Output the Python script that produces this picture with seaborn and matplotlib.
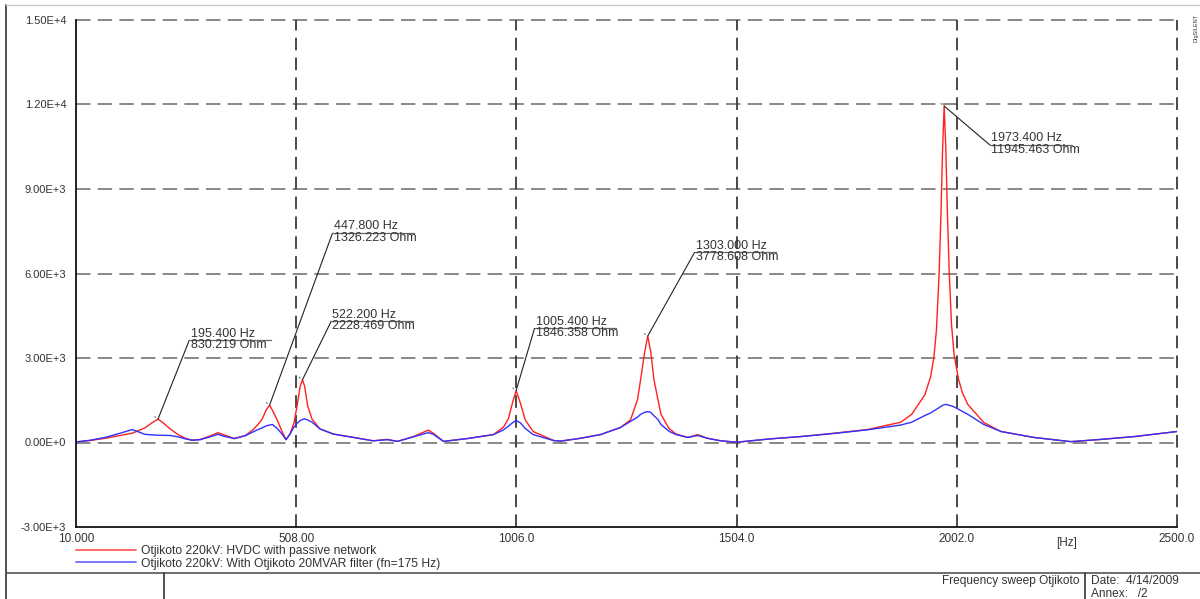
import pandas as pd
import numpy as np
import matplotlib.pyplot as plt
import seaborn as sns
from matplotlib.lines import Line2D

# Frequency sweep data (Hz / Ohm)
freq = [10, 42, 76, 110, 137, 166, 182, 195.4, 207, 223, 241, 257, 273, 291, 313, 331, 345, 368,
        393, 411, 422, 431, 440, 447.8, 454, 465, 476, 485, 494, 503, 510, 517, 522.2, 527, 534,
        544, 562, 592, 630, 682, 714, 737, 773, 795, 807, 818, 841, 895, 954, 977, 988, 997,
        1005.4, 1015, 1026, 1044, 1090, 1106, 1151, 1196, 1241, 1264, 1280, 1287, 1296, 1303,
        1310, 1317, 1326, 1333, 1351, 1367, 1394, 1416, 1438, 1468, 1504, 1581, 1649, 1724, 1800,
        1875, 1900, 1930, 1943, 1950, 1956, 1962, 1966, 1970, 1973.4, 1977, 1981, 1985, 1990,
        1996, 2006, 2015, 2027, 2063, 2102, 2176, 2260, 2328, 2403, 2500]

z_passive = [20, 70, 150, 250, 330, 520, 700, 830, 700, 480, 280, 150, 80, 110, 230, 350, 270, 140,
             250, 460, 650, 830, 1150, 1326, 1150, 800, 390, 100, 300, 700, 1300, 2000, 2228, 2000, 1300,
             820, 480, 300, 200, 60, 110, 40, 210, 360, 440, 330, 40, 140, 280, 550, 850, 1400,
             1846, 1400, 800, 390, 70, 50, 150, 280, 530, 800, 1530, 2240, 3200, 3778,
             3200, 2240, 1530, 1000, 500, 300, 180, 280, 150, 60, 10, 130, 210, 330, 460,
             720, 1000, 1700, 2350, 3000, 4000, 6000, 8000, 10500, 11945, 10500, 8000, 6000, 4200,
             3100, 2240, 1750, 1350, 710, 390, 180, 30, 110, 210, 390]

z_filter = [20, 80, 180, 330, 460, 290, 270, 260, 255, 250, 200, 130, 80, 100, 200, 290, 220, 140,
            240, 380, 460, 520, 590, 620, 640, 500, 300, 100, 300, 550, 680, 780, 820, 840, 800,
            720, 480, 300, 200, 60, 100, 40, 200, 300, 350, 290, 40, 140, 280, 450, 580, 700,
            780, 700, 500, 280, 70, 50, 150, 280, 530, 750, 900, 1000, 1070, 1100,
            1070, 950, 820, 640, 400, 280, 180, 250, 150, 60, 10, 130, 210, 320, 450,
            620, 720, 960, 1050, 1120, 1180, 1240, 1280, 1320, 1340, 1350, 1340, 1320, 1300,
            1260, 1180, 1100, 1000, 640, 390, 180, 30, 110, 210, 390]

series_names = ["Otjikoto 220kV: HVDC with passive network",
                "Otjikoto 220kV: With Otjikoto 20MVAR filter (fn=175 Hz)"]

# Marked resonance peaks and where their labels sit
peak_f = [195.4, 447.8, 522.2, 1005.4, 1303.0, 1973.4]
peak_z = [830.219, 1326.223, 2228.469, 1846.358, 3778.608, 11945.463]
label_f = [266, 590, 587, 1047, 1409, 2077]
label_z = [3625, 7430, 4300, 4050, 6750, 10560]

df = pd.DataFrame({
    "f": freq * 2,
    "z": z_passive + z_filter,
    "case": [series_names[0]] * len(freq) + [series_names[1]] * len(freq),
})

sns.set_style("white")
plt.rcParams["font.family"] = ["Liberation Sans", "DejaVu Sans"]

fig = plt.figure(figsize=(12, 5.99), dpi=100)
ax = fig.add_axes([76 / 1200, 72 / 599, 1101 / 1200, 507 / 599])

sns.lineplot(data=df, x="f", y="z", hue="case", palette=["#ff2020", "#3030ff"],
             linewidth=1.0, ax=ax, legend=False, estimator=None, sort=False)

ax.set_xlim(10, 2500)
ax.set_ylim(-3000, 15000)
ax.set_xticks([10, 508, 1006, 1504, 2002, 2500])
ax.set_xticklabels(["10.000", "508.00", "1006.0", "1504.0", "2002.0", "2500.0"])
ax.set_xticks([259, 757, 1255, 1753, 2251], minor=True)
yt = [-3000, 0, 3000, 6000, 9000, 12000, 15000]
ax.set_yticks(yt)
ax.set_yticklabels(["-3.00E+3", "0.00E+0", "3.00E+3", "6.00E+3", "9.00E+3", "1.20E+4", "1.50E+4"])
ax.set_yticks([-1500, 1500, 4500, 7500, 10500, 13500], minor=True)
ax.set_xlabel("")
ax.set_ylabel("")

ax.tick_params(axis="both", which="major", length=0, labelsize=8, labelcolor="#333333")
ax.tick_params(axis="x", which="major", labelsize=8.5, pad=4)
ax.tick_params(axis="y", which="major", pad=7)
ax.tick_params(axis="both", which="minor", direction="in", length=4, width=1, color="#222222")

ax.text(2251, -3350, "[Hz]", ha="center", va="top", fontsize=8.5, color="#333333")

# dashed grid, drawn by hand so the edges stay solid
for y in [0, 3000, 6000, 9000, 12000, 15000]:
    ax.axhline(y, color="#7f7f7f", lw=1.3, dashes=(8, 4), zorder=0, clip_on=False)
for x in [508, 1006, 1504, 2002, 2500]:
    ax.axvline(x, color="#3a3a3a", lw=1.3, dashes=(7, 4), zorder=0, clip_on=False)

for s in ["top", "right"]:
    ax.spines[s].set_visible(False)
for s in ["left", "bottom"]:
    ax.spines[s].set_color("#111111")
    ax.spines[s].set_linewidth(1.3)

# peak labels
for pf, pz, lf, lz in zip(peak_f, peak_z, label_f, label_z):
    ax.plot([pf, lf], [pz, lz], color="#222222", lw=0.8)
    ax.annotate("", xy=(pf, pz), xytext=(-4, 3), textcoords="offset points",
                arrowprops=dict(arrowstyle="-", color="#777777", lw=0.8))
    ax.plot([lf, lf + 185], [lz, lz], color="#666666", lw=0.9)
    ax.text(lf + 3, lz + 30, f"{pf:.3f} Hz", ha="left", va="bottom", fontsize=9, color="#333333")
    ax.text(lf + 3, lz + 50, f"{pz:.3f} Ohm", ha="left", va="top", fontsize=9, color="#333333")

# legend under the plot
handles = [Line2D([], [], color="#ff5050", lw=1.2), Line2D([], [], color="#6060ff", lw=1.2)]
fig.legend(handles, series_names, loc="upper left", bbox_to_anchor=(70 / 1200, 1 - 539 / 599),
           frameon=False, fontsize=8.7, handlelength=5.0, handletextpad=0.4,
           borderpad=0, labelspacing=0.05, labelcolor="#333333")

# page frame
fig.add_artist(Line2D([6 / 1200, 6 / 1200], [0, 1 - 5 / 599], color="#333333", lw=1.2))
fig.add_artist(Line2D([6 / 1200, 1], [1 - 5 / 599, 1 - 5 / 599], color="#cccccc", lw=1.0))
fig.add_artist(Line2D([6 / 1200, 1], [1 - 573 / 599, 1 - 573 / 599], color="#555555", lw=1.2))
fig.add_artist(Line2D([164 / 1200, 164 / 1200], [0, 1 - 573 / 599], color="#333333", lw=1.2))
fig.add_artist(Line2D([1085 / 1200, 1085 / 1200], [0, 1 - 573 / 599], color="#333333", lw=1.2))
fig.text(1080 / 1200, 1 - 581 / 599, "Frequency sweep Otjikoto", ha="right", va="center",
         fontsize=8.6, color="#333333")
fig.text(1091 / 1200, 1 - 581 / 599, "Date:  4/14/2009", ha="left", va="center",
         fontsize=8.6, color="#333333")
fig.text(1091 / 1200, 1 - 594 / 599, "Annex:   /2", ha="left", va="center",
         fontsize=8.6, color="#333333")
fig.text(1196 / 1200, 1 - 28 / 599, "DIgSILENT", rotation=90, ha="center", va="center",
         fontsize=4, color="#333333")

fig.savefig("out.png", dpi=100)
